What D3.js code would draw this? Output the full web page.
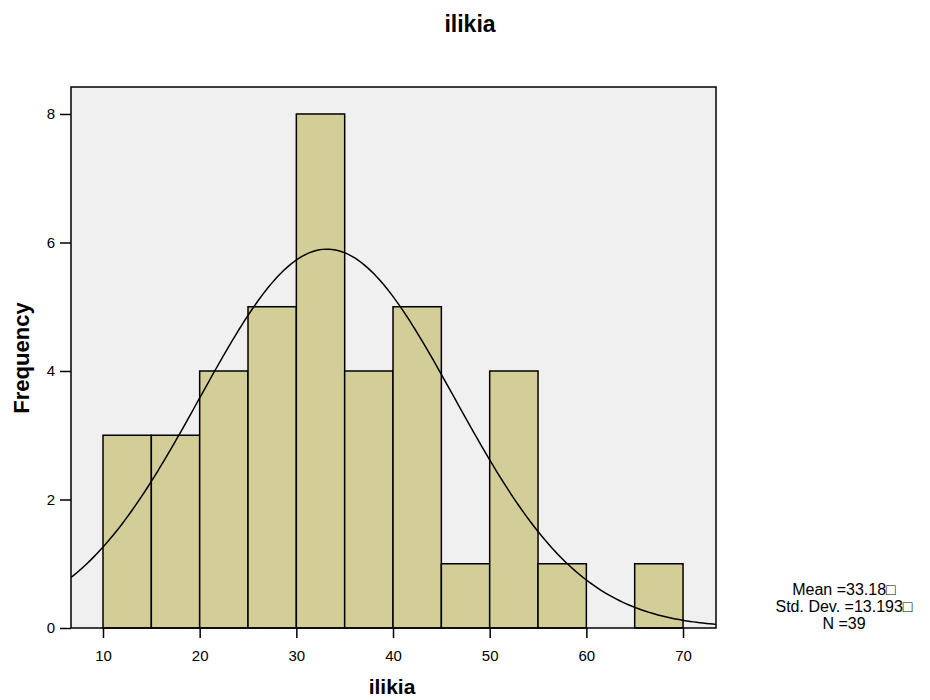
<!DOCTYPE html>
<html><head><meta charset="utf-8">
<script src="https://cdn.jsdelivr.net/npm/d3@7"></script>
<style>body{margin:0;background:#fff}svg{display:block}</style>
</head><body>
<svg id="c" width="930" height="700"></svg>
<script>
const binStarts = [10,15,20,25,30,35,40,45,50,55,60,65];
const binWidth = 5;
const counts = [3,3,4,5,8,4,5,1,4,1,0,1];
const xTicks = [10,20,30,40,50,60,70];
const yTicks = [0,2,4,6,8];
const mean = 33.18, sd = 13.193, N = 39;
const statsLines = ["Mean =33.18\u25A1","Std. Dev. =13.193\u25A1","N =39"];

const svg = d3.select("#c");
const L=71,R=716,T=87,B=628;
const x = d3.scaleLinear().domain([6.69,73.41]).range([L,R]);
const y = d3.scaleLinear().domain([0,8.42]).range([B,T]);
const font = "Arial, 'Liberation Sans', sans-serif";

svg.append("rect").attr("x",L).attr("y",T).attr("width",R-L).attr("height",B-T).attr("fill","#f0f0f0");

svg.append("g").selectAll("rect").data(binStarts.map((s,i)=>({s,c:counts[i]})).filter(d=>d.c>0))
 .join("rect")
 .attr("x",d=>x(d.s)).attr("y",d=>y(d.c))
 .attr("width",d=>x(d.s+binWidth)-x(d.s)).attr("height",d=>y(0)-y(d.c))
 .attr("fill","#d3ce97").attr("stroke","#000").attr("stroke-width",1.5);

// normal curve fitted from mean/sd
const dom = x.domain();
const pts = d3.range(0,201).map(i=>{const v=dom[0]+(dom[1]-dom[0])*i/200;
  return [v, N*binWidth/(sd*Math.sqrt(2*Math.PI))*Math.exp(-0.5*((v-mean)/sd)**2)];});
svg.append("path").datum(pts).attr("fill","none").attr("stroke","#000").attr("stroke-width",1.5)
 .attr("d",d3.line().x(d=>x(d[0])).y(d=>y(d[1])));

svg.append("rect").attr("x",L).attr("y",T).attr("width",R-L).attr("height",B-T).attr("fill","none").attr("stroke","#000").attr("stroke-width",1.5);

const xa = svg.append("g").attr("transform",`translate(0,${B})`)
 .call(d3.axisBottom(x).tickValues(xTicks).tickSize(10).tickSizeOuter(0).tickPadding(12));
const ya = svg.append("g").attr("transform",`translate(${L},0)`)
 .call(d3.axisLeft(y).tickValues(yTicks).tickSize(11).tickSizeOuter(0).tickPadding(5));
[xa,ya].forEach(a=>{a.select(".domain").remove();
 a.selectAll("line").attr("stroke","#000").attr("stroke-width",1.5);
 a.selectAll("text").attr("font-family",font).attr("font-size",15).attr("fill","#000");});

svg.append("text").attr("x",470).attr("y",32).attr("text-anchor","middle").attr("font-family",font)
 .attr("font-weight","bold").attr("font-size",23).text("ilikia");
svg.append("text").attr("x",392).attr("y",694).attr("text-anchor","middle").attr("font-family",font)
 .attr("font-weight","bold").attr("font-size",21).text("ilikia");
svg.append("text").attr("transform","translate(28.5,358) rotate(-90)").attr("text-anchor","middle").attr("font-family",font)
 .attr("font-weight","bold").attr("font-size",22).text("Frequency");

svg.append("g").selectAll("text").data(statsLines).join("text")
 .attr("x",844).attr("y",(d,i)=>595+i*17).attr("text-anchor","middle").attr("font-family",font)
 .attr("font-size",16).text(d=>d);
</script>
</body></html>
